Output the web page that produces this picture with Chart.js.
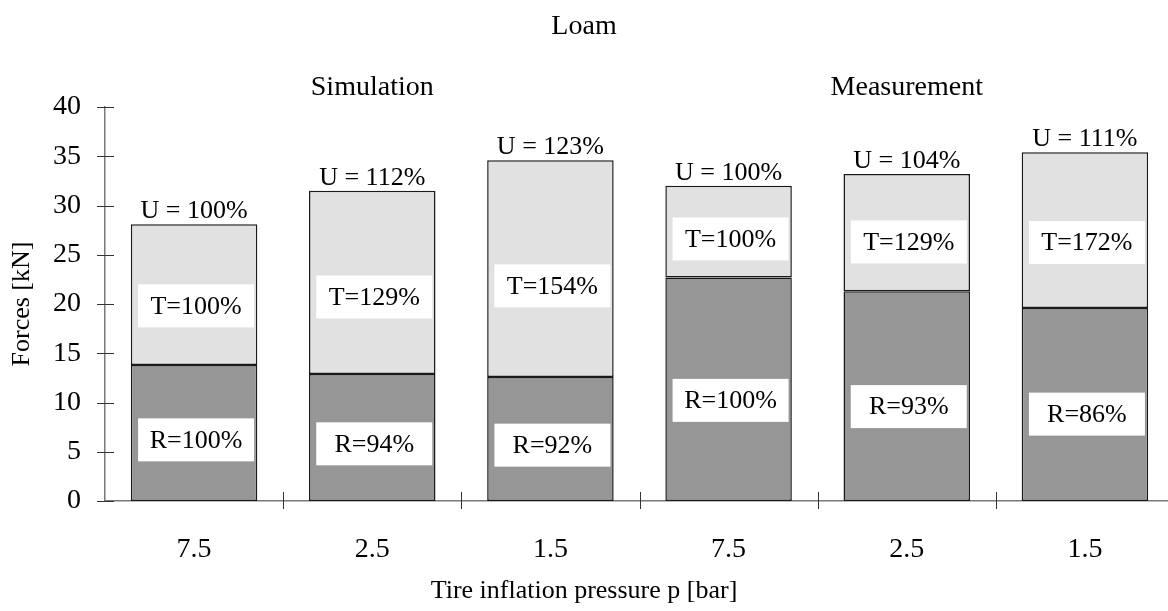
<!doctype html>
<html>
<head>
<title>Loam</title>
<script src="https://cdn.jsdelivr.net/npm/chart.js@4/dist/chart.umd.min.js"></script>
<style>
  body { margin: 0; overflow: hidden; background: #fff; }
  #container { width: 1174px; height: 611px; }
</style>
</head>
<body>
<div id="container">
  <canvas id="canvas"></canvas>
</div>
<script>
// data
var categories = ['7.5', '2.5', '1.5', '7.5', '2.5', '1.5'];
var groupNames = ['Simulation', 'Measurement'];
var groupCenters = [1, 4]; // category index under each group name
var rolling = [13.8, 12.9, 12.6, 22.7, 21.3, 19.6];
var traction = [14.3, 18.6, 22.0, 9.3, 11.9, 15.8];
var rLabels = ['R=100%', 'R=94%', 'R=92%', 'R=100%', 'R=93%', 'R=86%'];
var tLabels = ['T=100%', 'T=129%', 'T=154%', 'T=100%', 'T=129%', 'T=172%'];
var uLabels = ['U = 100%', 'U = 112%', 'U = 123%', 'U = 100%', 'U = 104%', 'U = 111%'];

var serif = 'Liberation Serif';

// texts, boxes and crossing tick marks
var extras = {
  id: 'extras',
  afterDraw: function(chart) {
    var ctx = chart.ctx;
    var xs = chart.scales.x, ys = chart.scales.y;
    ctx.save();

    // tick marks crossing the axes
    ctx.strokeStyle = '#333';
    ctx.lineWidth = 1;
    ctx.beginPath();
    ys.ticks.forEach(function(t, i) {
      var py = Math.round(ys.getPixelForTick(i)) + 0.5;
      ctx.moveTo(xs.left - 8, py);
      ctx.lineTo(xs.left + 9, py);
    });
    for (var i = 0; i < categories.length - 1; i++) {
      var px = Math.round((xs.getPixelForValue(i) + xs.getPixelForValue(i + 1)) / 2) + 0.5;
      ctx.moveTo(px, ys.bottom - 9);
      ctx.lineTo(px, ys.bottom + 8);
    }
    ctx.stroke();

    // white boxes inside the bars, a bit below the middle of each segment
    var labelSets = [rLabels, tLabels];
    var where = [0.45, 0.42];
    ctx.font = '26px "' + serif + '"';
    ctx.textAlign = 'center';
    ctx.textBaseline = 'middle';
    labelSets.forEach(function(lbls, d) {
      chart.getDatasetMeta(d).data.forEach(function(bar, i) {
        var cx = bar.x + 2;
        var cy = bar.base + (bar.y - bar.base) * where[d];
        ctx.fillStyle = '#fff';
        ctx.fillRect(cx - 58, cy - 21.5, 116, 43);
        ctx.fillStyle = '#000';
        ctx.fillText(lbls[i], cx, cy + 1);
      });
    });

    // U labels above the bars
    ctx.textBaseline = 'alphabetic';
    chart.getDatasetMeta(1).data.forEach(function(bar, i) {
      ctx.fillText(uLabels[i], bar.x, bar.y - 6);
    });

    // title, group names and axis titles
    var midX = chart.width / 2 - 3;
    ctx.font = '28px "' + serif + '"';
    ctx.fillText('Loam', midX, 34);
    groupNames.forEach(function(g, k) {
      ctx.fillText(g, xs.getPixelForValue(groupCenters[k]), 95);
    });
    ctx.font = '26px "' + serif + '"';
    ctx.fillText('Tire inflation pressure p [bar]', midX, 598);
    ctx.translate(29, (ys.top + ys.bottom) / 2);
    ctx.rotate(-Math.PI / 2);
    ctx.fillText('Forces [kN]', 0, 0);
    ctx.restore();
  }
};

var config = {
  type: 'bar',
  data: {
    labels: categories,
    datasets: [{
      label: 'R',
      data: rolling,
      backgroundColor: '#969696',
      borderColor: '#1a1a1a',
      borderWidth: 1.5,
      borderSkipped: false
    }, {
      label: 'T',
      data: traction,
      backgroundColor: '#e1e1e1',
      borderColor: '#1a1a1a',
      borderWidth: 1.5,
      borderSkipped: false
    }]
  },
  options: {
    responsive: true,
    maintainAspectRatio: false,
    animation: false,
    layout: { padding: { top: 107, left: 0, right: 0, bottom: 0 } },
    datasets: { bar: { categoryPercentage: 1, barPercentage: 0.71 } },
    plugins: {
      legend: { display: false },
      title: { display: false },
      tooltip: { enabled: false }
    },
    scales: {
      x: {
        stacked: true,
        grid: { display: false },
        border: { display: true, color: '#7a7a7a', width: 1.5 },
        ticks: {
          color: '#000',
          padding: 24,
          font: { family: serif, size: 28 }
        },
        afterFit: function(scale) { scale.height = 110; }
      },
      y: {
        stacked: true,
        min: 0,
        max: 40,
        grid: { display: false },
        border: { display: true, color: '#7a7a7a', width: 1.5 },
        ticks: {
          stepSize: 5,
          color: '#000',
          padding: 16,
          font: { family: serif, size: 28 }
        },
        afterFit: function(scale) { scale.width = 105; }
      }
    }
  },
  plugins: [extras]
};

window.myBar = new Chart(document.getElementById('canvas'), config);
</script>
</body>
</html>
